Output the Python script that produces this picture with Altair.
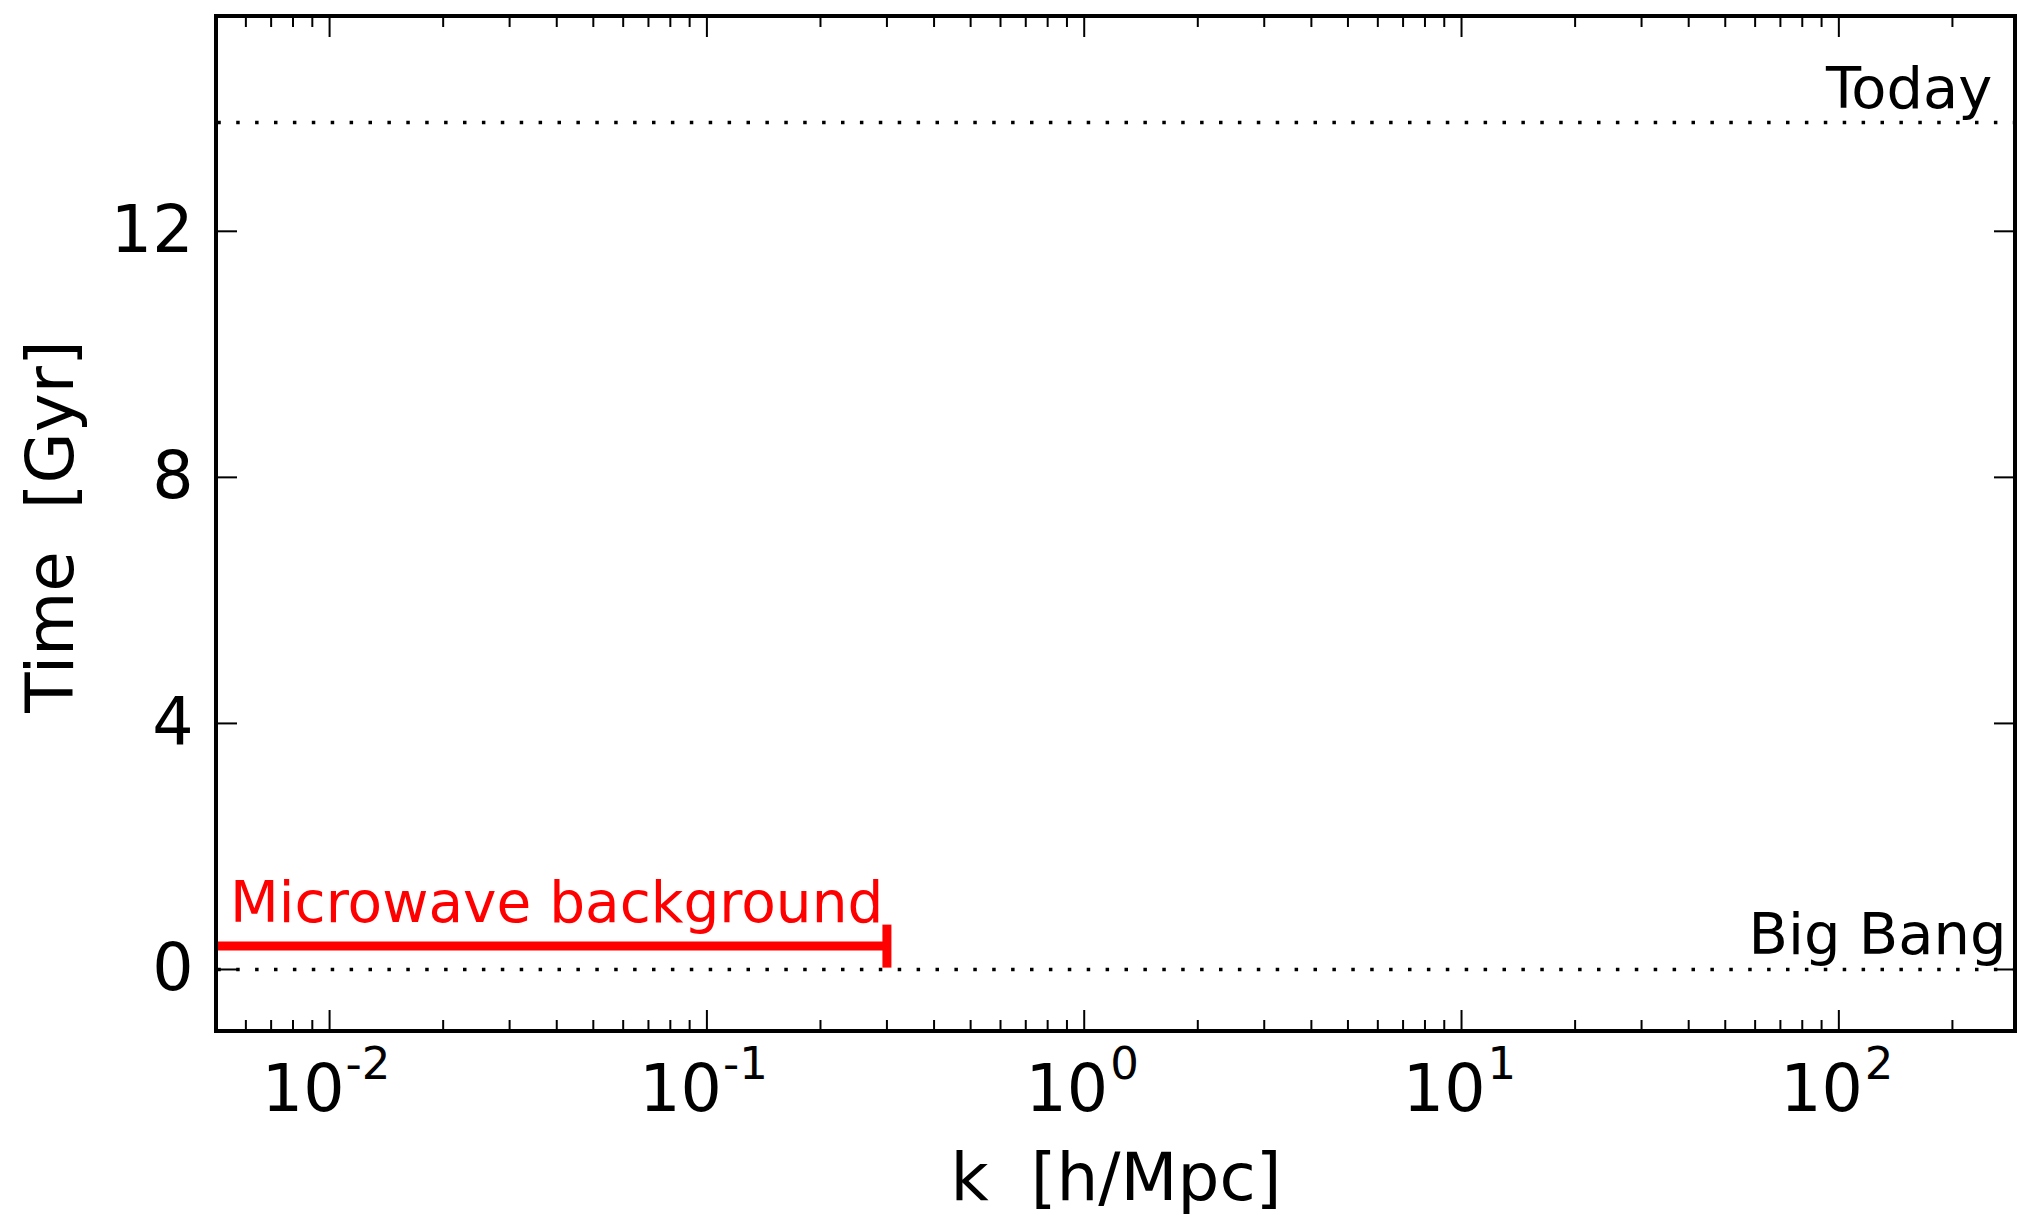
import altair as alt
import pandas as pd

# ---- data ----
k_limits = [0.005, 293]          # x axis range [h/Mpc]
t_limits = [-1, 15.5]            # y axis range [Gyr]
x_major = [0.01, 0.1, 1, 10, 100]
x_exponents = ["-2", "-1", "0", "1", "2"]
x_minor = [0.005, 0.006, 0.007, 0.008, 0.009,
           0.02, 0.03, 0.04, 0.05, 0.06, 0.07, 0.08, 0.09,
           0.2, 0.3, 0.4, 0.5, 0.6, 0.7, 0.8, 0.9,
           2, 3, 4, 5, 6, 7, 8, 9,
           20, 30, 40, 50, 60, 70, 80, 90,
           200]
y_major = [0, 4, 8, 12]

ref_t = [0, 13.77]               # Big Bang, Today
ann_text = ["Today", "Big Bang"]
ann_k = [255, 278]
ann_t = [14.0, 0.25]

cmb_k_start = [0.005]
cmb_k_end = [0.3]
cmb_t = [0.38]
cmb_label = ["Microwave background"]
cmb_label_k = [0.00545]
cmb_label_t = [0.78]

W, H = 1799, 1015
FONT = "DejaVu Sans"

xs = alt.Scale(type="log", domain=k_limits, nice=False)
ys = alt.Scale(domain=t_limits, nice=False, zero=False)

major_df = pd.DataFrame({"k": x_major, "base": ["10"] * len(x_major), "exp": x_exponents})
minor_df = pd.DataFrame({"k": x_minor})
ymaj_df = pd.DataFrame({"t": y_major})
ref_df = pd.DataFrame({"t": ref_t})
ann_df = pd.DataFrame({"k": ann_k, "t": ann_t, "label": ann_text})
cmb_df = pd.DataFrame({"k": cmb_k_start, "k2": cmb_k_end, "t": cmb_t})
cmb_lab_df = pd.DataFrame({"k": cmb_label_k, "t": cmb_label_t, "label": cmb_label})

x_axis = alt.Axis(labels=False, ticks=False, tickSize=0, domain=False, grid=False,
                  title="k\u00a0 [h/Mpc]", titleFontSize=66, titleFont=FONT,
                  titleFontWeight="normal", titleColor="black",
                  titleBaseline="alphabetic", titleY=168)
y_axis = alt.Axis(values=y_major, ticks=False, tickSize=0, domain=False, grid=False,
                  labelFontSize=65, labelFont=FONT, labelColor="black", labelPadding=23,
                  title="Time\u00a0 [Gyr]", titleFontSize=66, titleFont=FONT,
                  titleFontWeight="normal", titleColor="black",
                  titleBaseline="alphabetic", titleAngle=270, titleX=-144, titleY=510)

X = lambda f: alt.X(f, scale=xs, axis=x_axis)
Y = lambda f: alt.Y(f, scale=ys, axis=y_axis)

# reference dotted lines (Big Bang / Today)
ref_lines = alt.Chart(ref_df).mark_rule(
    color="black", strokeWidth=3.5, strokeDash=[3.5, 15.4], strokeDashOffset=1.3
).encode(y=Y("t:Q"))

ann = alt.Chart(ann_df).mark_text(
    align="right", baseline="alphabetic", fontSize=57.5, font=FONT, color="black"
).encode(x=X("k:Q"), y=Y("t:Q"), text="label:N")

# microwave background bar
cmb_line = alt.Chart(cmb_df).mark_rule(color="#ff0000", strokeWidth=9).encode(
    x=X("k:Q"), x2="k2:Q", y=Y("t:Q"))
cmb_cap = alt.Chart(cmb_df).mark_tick(color="#ff0000", orient="vertical", size=43,
                                      thickness=9, opacity=1).encode(
    x=X("k2:Q"), y=Y("t:Q"))
cmb_text = alt.Chart(cmb_lab_df).mark_text(
    align="left", baseline="alphabetic", fontSize=56.5, font=FONT, color="#ff0000"
).encode(x=X("k:Q"), y=Y("t:Q"), text="label:N")

# inward ticks
def xticks(df, y0, y1):
    return alt.Chart(df).mark_rule(color="black", strokeWidth=2).encode(
        x=X("k:Q"), y=alt.value(y0), y2=alt.value(y1))

def yticks(x0, x1):
    return alt.Chart(ymaj_df).mark_rule(color="black", strokeWidth=2).encode(
        y=Y("t:Q"), x=alt.value(x0), x2=alt.value(x1))

tick_layers = [
    xticks(major_df, H, H - 21), xticks(major_df, 0, 21),
    xticks(minor_df, H, H - 11), xticks(minor_df, 0, 11),
    yticks(0, 21), yticks(W, W - 21),
]

# x tick labels: 10 with superscript exponent
def xlabels(filter_expr, dx_base, dx_exp):
    base = alt.Chart(major_df).transform_filter(filter_expr).mark_text(
        align="right", baseline="alphabetic", fontSize=65, font=FONT, color="black", dx=dx_base
    ).encode(x=X("k:Q"), y=alt.value(H + 80), text="base:N")
    exp = alt.Chart(major_df).transform_filter(filter_expr).mark_text(
        align="left", baseline="alphabetic", fontSize=45, font=FONT, color="black", dx=dx_exp
    ).encode(x=X("k:Q"), y=alt.value(H + 48), text="exp:N")
    return [base, exp]

label_layers = xlabels("datum.k < 1", 15, 16) + xlabels("datum.k >= 1", 24, 26)

frame = alt.Chart(alt.Data(values=[{}])).mark_rect(
    filled=False, stroke="black", strokeWidth=4
).encode(x=alt.value(0), x2=alt.value(W), y=alt.value(0), y2=alt.value(H))

chart = alt.layer(
    ref_lines, ann, cmb_line, cmb_cap, cmb_text, *tick_layers, *label_layers, frame
).properties(
    width=W, height=H,
    padding={"left": 216, "top": 16, "right": 2, "bottom": 184},
    autosize=alt.AutoSizeParams(type="none"),
    background="white",
).configure_view(strokeWidth=0).configure(font=FONT)

chart.save("out.html", embed_options={"renderer": "svg", "actions": False})
